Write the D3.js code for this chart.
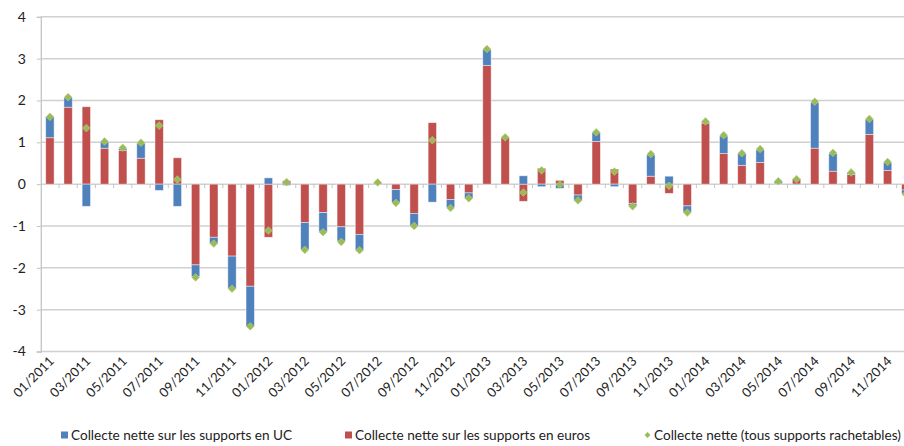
<!DOCTYPE html>
<html>
<head>
<meta charset="utf-8">
<script src="https://cdn.jsdelivr.net/npm/d3@7"></script>
<style>
  html, body { margin: 0; padding: 0; background: #fff; overflow: hidden; }
  svg { display: block; font-family: Lato, "Open Sans", sans-serif; }
</style>
</head>
<body>
<svg id="chart" width="904" height="446"></svg>
<script>
const months = ["01/2011","02/2011","03/2011","04/2011","05/2011","06/2011","07/2011","08/2011","09/2011","10/2011","11/2011","12/2011",
  "01/2012","02/2012","03/2012","04/2012","05/2012","06/2012","07/2012","08/2012","09/2012","10/2012","11/2012","12/2012",
  "01/2013","02/2013","03/2013","04/2013","05/2013","06/2013","07/2013","08/2013","09/2013","10/2013","11/2013","12/2013",
  "01/2014","02/2014","03/2014","04/2014","05/2014","06/2014","07/2014","08/2014","09/2014","10/2014","11/2014","12/2014"];
const tickLabels = ["01/2011","03/2011","05/2011","07/2011","09/2011","11/2011","01/2012","03/2012","05/2012","07/2012","09/2012","11/2012",
  "01/2013","03/2013","05/2013","07/2013","09/2013","11/2013","01/2014","03/2014","05/2014","07/2014","09/2014","11/2014"];
const yTicks = [-4,-3,-2,-1,0,1,2,3,4];
const uc = [0.50,0.23,-0.53,0.15,0.04,0.36,-0.15,-0.53,-0.28,-0.15,-0.77,-0.96,
  0.15,-0.03,-0.64,-0.46,-0.34,-0.38,0.01,-0.31,-0.30,-0.43,-0.19,-0.13,
  0.38,0.01,0.20,-0.06,-0.10,-0.13,0.21,-0.06,-0.06,0.51,0.19,-0.15,
  0.03,0.42,0.28,0.30,0.05,-0.02,1.09,0.42,0.04,0.36,0.19,-0.09];
const euro = [1.11,1.84,1.85,0.86,0.81,0.62,1.54,0.63,-1.93,-1.27,-1.72,-2.44,
  -1.27,0.08,-0.92,-0.68,-1.02,-1.20,0.03,-0.13,-0.70,1.47,-0.37,-0.21,
  2.84,1.11,-0.41,0.38,0.09,-0.26,1.02,0.36,-0.46,0.19,-0.22,-0.52,
  1.46,0.73,0.45,0.52,0.01,0.13,0.86,0.31,0.23,1.19,0.33,-0.14];
const total = [1.61,2.08,1.34,1.02,0.87,0.99,1.40,0.11,-2.23,-1.42,-2.50,-3.40,
  -1.11,0.05,-1.57,-1.15,-1.38,-1.58,0.04,-0.45,-1.00,1.05,-0.57,-0.34,
  3.23,1.12,-0.20,0.33,-0.01,-0.39,1.24,0.30,-0.53,0.72,-0.04,-0.68,
  1.50,1.17,0.74,0.84,0.07,0.12,1.97,0.75,0.28,1.56,0.53,-0.24];
const legendLabels = ["Collecte nette sur les supports en UC","Collecte nette sur les supports en euros","Collecte nette (tous supports rachetables)"];

const colUC = "#4F81BD", colEuro = "#C0504D", colTot = "#9BBB59";

const svg = d3.select("#chart");
const x = d3.scaleBand().domain(months).range([40.8, 914.9]).paddingInner(0.54).paddingOuter(0.27);
const y = d3.scaleLinear().domain([-4, 4]).range([351.5, 16.8]);

// gridlines
svg.append("g").selectAll("line").data(yTicks).join("line")
  .attr("x1", 40.8).attr("x2", 904)
  .attr("y1", d => y(d)).attr("y2", d => y(d))
  .attr("stroke", "#d0d0d0").attr("stroke-width", 1.5);

// y axis
const yAxis = svg.append("g").attr("transform", "translate(40.8,0)")
  .call(d3.axisLeft(y).tickValues(yTicks).tickSize(4).tickPadding(11).tickFormat(d => String(d)));
yAxis.select(".domain").attr("stroke", "#c4c4c4").attr("stroke-width", 1.3);
yAxis.selectAll(".tick line").attr("stroke", "#c4c4c4");
yAxis.selectAll("text").attr("font-size", 14).attr("fill", "#222").style("font-family", "Lato, sans-serif");

// x ticks at zero line (band boundaries)
const step = x.step();
svg.append("g").selectAll("line").data(months.slice(1)).join("line")
  .attr("x1", d => x(d) - (step - x.bandwidth()) / 2)
  .attr("x2", d => x(d) - (step - x.bandwidth()) / 2)
  .attr("y1", y(0)).attr("y2", y(0) + 4)
  .attr("stroke", "#c4c4c4").attr("stroke-width", 1);

// stacked bars
const rows = months.map((m, i) => ({ month: m, euro: euro[i], uc: uc[i] }));
const stack = d3.stack().keys(["euro", "uc"]).offset(d3.stackOffsetDiverging);
const series = stack(rows);
const colors = { euro: colEuro, uc: colUC };
svg.append("g").selectAll("g").data(series).join("g")
  .attr("fill", d => colors[d.key])
  .selectAll("rect").data(d => d).join("rect")
  .attr("x", d => x(d.data.month))
  .attr("width", x.bandwidth())
  .attr("y", d => y(Math.max(d[0], d[1])))
  .attr("height", d => Math.abs(y(d[0]) - y(d[1])))
  .attr("stroke", "rgba(255,255,255,0.55)").attr("stroke-width", 0.8);

// diamonds
const sym = d3.symbol().type(d3.symbolDiamond2).size(38);
svg.append("g").selectAll("path").data(total).join("path")
  .attr("d", sym)
  .attr("transform", (d, i) => `translate(${x(months[i]) + x.bandwidth() / 2},${y(d)})`)
  .attr("fill", colTot).attr("stroke", "#b5cf80").attr("stroke-width", 0.6);

// x labels
svg.append("g").selectAll("text").data(tickLabels).join("text")
  .attr("transform", d => `translate(${x(d) + x.bandwidth() / 2 + 5},${362}) rotate(-45)`)
  .attr("text-anchor", "end")
  .attr("font-size", 13).attr("fill", "#222")
  .text(d => d);

// legend
const legendItems = [
  { label: legendLabels[0], color: colUC, type: "square", x: 61 },
  { label: legendLabels[1], color: colEuro, type: "square", x: 345 },
  { label: legendLabels[2], color: colTot, type: "diamond", x: 644 }
];
const lg = svg.append("g").selectAll("g").data(legendItems).join("g")
  .attr("transform", d => `translate(${d.x},435)`);
lg.filter(d => d.type === "square").append("rect")
  .attr("x", 0).attr("y", -3.5).attr("width", 7).attr("height", 7)
  .attr("fill", d => d.color);
lg.filter(d => d.type === "diamond").append("path")
  .attr("d", d3.symbol().type(d3.symbolDiamond2).size(22))
  .attr("transform", "translate(3.5,0)")
  .attr("fill", d => d.color);
lg.append("text").attr("x", 10).attr("dy", "0.35em")
  .attr("font-size", 13.6).attr("fill", "#222")
  .text(d => d.label);
</script>
</body>
</html>
